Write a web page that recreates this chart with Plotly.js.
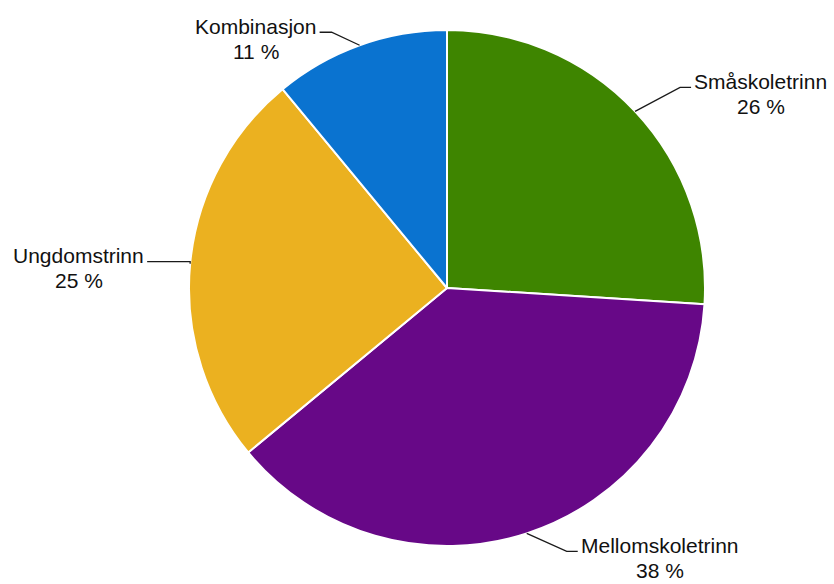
<!DOCTYPE html>
<html>
<head>
<meta charset="utf-8">
<script src="https://cdn.plot.ly/plotly-3.0.1.min.js"></script>
<style>
  html, body { margin: 0; padding: 0; background: #fff; }
  #chart { width: 834px; height: 584px; }
</style>
</head>
<body>
<div id="chart"></div>
<script>
const labels = ["Småskoletrinn", "Mellomskoletrinn", "Ungdomstrinn", "Kombinasjon"];
const values = [26, 38, 25, 11];
const colors = ["#3e8500", "#670887", "#ebb120", "#0a73d0"];

// leader line look: [elbow dx, elbow dy, horizontal length] in px from the slice edge
const leaders = [
  [45, -24, 11],
  [40, 18, 11],
  [0, -2, 43],
  [-28, -13, 12],
];

const W = 834, H = 584;
const margin = { l: 189, r: 129, t: 30, b: 38 };
const pw = W - margin.l - margin.r;
const ph = H - margin.t - margin.b;
const cx = margin.l + pw / 2;
const cy = margin.t + ph / 2;
const R = Math.min(pw, ph) / 2;
const FONT = "Liberation Sans, Arial, sans-serif";
const FS = 21;

const toX = (px) => (px - margin.l) / pw;
const toY = (py) => (H - margin.b - py) / ph;

const ctx = document.createElement("canvas").getContext("2d");
ctx.font = `${FS}px "Liberation Sans", Arial, sans-serif`;
const textW = (s) => ctx.measureText(s).width;

const total = values.reduce((a, b) => a + b, 0);
const shapes = [];
const annotations = [];
let acc = 0;
values.forEach((v, i) => {
  const mid = ((acc + v / 2) / total) * 2 * Math.PI;
  acc += v;
  const ex = cx + R * Math.sin(mid);
  const ey = cy - R * Math.cos(mid);
  const side = Math.sin(mid) >= 0 ? 1 : -1;
  const [dx, dy, len] = leaders[i];
  const bx = ex + dx, by = ey + dy;
  const hx = bx + side * len;
  shapes.push({
    type: "path",
    xref: "paper",
    yref: "paper",
    path: `M ${toX(ex)},${toY(ey)} L ${toX(bx)},${toY(by)} L ${toX(hx)},${toY(by)}`,
    line: { color: "#1a1a1a", width: 1.3 },
  });
  const lines = [labels[i], `${v} %`];
  const blockW = Math.max(...lines.map(textW));
  const centerX = hx + side * (3 + blockW / 2);
  lines.forEach((t, k) => {
    annotations.push({
      xref: "paper",
      yref: "paper",
      x: toX(centerX),
      y: toY(by + 25 * k),
      xanchor: "center",
      yanchor: "middle",
      yshift: 6,
      borderpad: 0,
      showarrow: false,
      text: t,
      font: { family: FONT, size: FS, color: "#111" },
    });
  });
});

Plotly.newPlot("chart", [
  {
    type: "pie",
    labels: labels,
    values: values,
    sort: false,
    direction: "clockwise",
    rotation: 0,
    textinfo: "none",
    marker: { colors: colors, line: { color: "#fff", width: 2 } },
    hoverinfo: "label+percent",
  },
], {
  width: W,
  height: H,
  margin: margin,
  showlegend: false,
  paper_bgcolor: "#fff",
  shapes: shapes,
  annotations: annotations,
}, { displayModeBar: false, staticPlot: true });
</script>
</body>
</html>
